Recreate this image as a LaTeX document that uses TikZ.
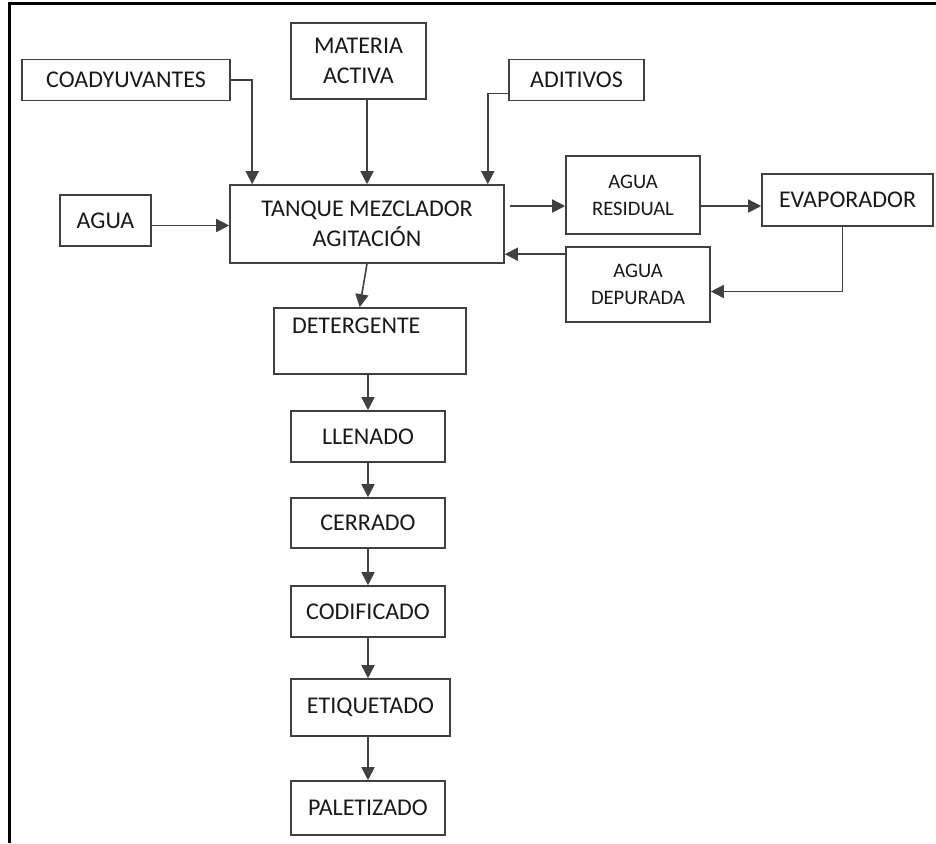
\documentclass[tikz,border=0pt]{standalone}
\usepackage{fontspec}
\setmainfont{Carlito}
\usetikzlibrary{arrows.meta,calc}

\tikzset{
  box/.style={draw=black!75, line width=0.8pt, text=black!90, align=center,
    inner sep=0pt, font=\fontsize{12}{15}\selectfont},
  smallbox/.style={box, font=\fontsize{10.3}{13.5}\selectfont},
  flow/.style={draw=black!75, line width=0.8pt, -{Triangle[length=6.5pt,width=6.5pt]}},
}

\begin{document}
\begin{tikzpicture}[x=0.5pt, y=-0.5pt]
  \useasboundingbox (0,0) rectangle (936,843);
  % Rahmen
  \draw[line width=1.5pt] (936,3) -- (9,3) -- (9,843);

  % Zutaten
  \node[box, minimum width=104pt, minimum height=20.5pt] (coad) at (126,80) {COADYUVANTES};
  \node[box, minimum width=67.5pt, minimum height=38pt] (materia) at (358.5,61) {MATERIA\\ACTIVA};
  \node[box, minimum width=67.5pt, minimum height=20.5pt] (aditivos) at (576.5,80) {ADITIVOS};
  \node[box, minimum width=45.5pt, minimum height=25.5pt] (agua) at (105.5,220.5) {AGUA};
  \node[box, minimum width=137pt, minimum height=39pt] (tanque) at (367,224) {TANQUE MEZCLADOR\\AGITACIÓN};

  % Wasserkreislauf
  \node[smallbox, minimum width=67pt, minimum height=39pt] (residual) at (633,195) {AGUA\\RESIDUAL};
  \node[box, minimum width=85.5pt, minimum height=26pt] (evap) at (847.5,200) {EVAPORADOR};
  \node[smallbox, minimum width=72pt, minimum height=37.5pt] (depurada) at (638,284.5) {AGUA\\DEPURADA};

  % Abfuellung
  \node[box, align=left, text width=78pt, inner xsep=9pt, minimum height=33pt] (deterg) at (370,341) {DETERGENTE\\~};
  \node[box, minimum width=77pt, minimum height=25.5pt] (llenado) at (368,436.5) {LLENADO};
  \node[box, minimum width=77pt, minimum height=25pt] (cerrado) at (368,523) {CERRADO};
  \node[box, minimum width=77pt, minimum height=25.5pt] (codificado) at (368,611.5) {CODIFICADO};
  \node[box, minimum width=79.5pt, minimum height=28.5pt] (etiquetado) at (370.5,707.5) {ETIQUETADO};
  \node[box, minimum width=77pt, minimum height=27pt] (paletizado) at (368,808) {PALETIZADO};

  % Pfeile zum Tank
  \coordinate (a1) at ($(agua.east)+(0,5)$);
  \draw[flow] (coad.east) -| ($(tanque.north west)+(23,0)$);
  \draw[flow] (tanque.north |- materia.south) -- (tanque.north);
  \draw[flow] ($(aditivos.south west)+(0,-8)$) -| ($(tanque.north east)+(-17,0)$);
  \draw[flow] (a1) -- (a1 -| tanque.west);

  % Wasserkreislauf
  \coordinate (r1) at ($(residual.west)+(0,11)$);
  \coordinate (d1) at ($(depurada.north west)+(0,8)$);
  \coordinate (e1) at ($(depurada.east)+(0,7)$);
  \draw[flow, shorten <=2.5pt] (r1 -| tanque.east) -- (r1);
  \draw[flow] (r1 -| residual.east) -- (r1 -| evap.west);
  \draw[flow] ($(evap.south)+(-5,0)$) |- (e1);
  \draw[flow] (d1) -- (d1 -| tanque.east);

  % Abfuellkette
  \draw[flow] (tanque.south) -- (deterg.107);
  \draw[flow] (deterg.south -| llenado.north) -- (llenado.north);
  \draw[flow] (llenado) -- (cerrado);
  \draw[flow] (cerrado) -- (codificado);
  \draw[flow] (codificado) -- (etiquetado.north -| codificado.south);
  \draw[flow] (etiquetado.south -| paletizado.north) -- (paletizado);
\end{tikzpicture}
\end{document}
